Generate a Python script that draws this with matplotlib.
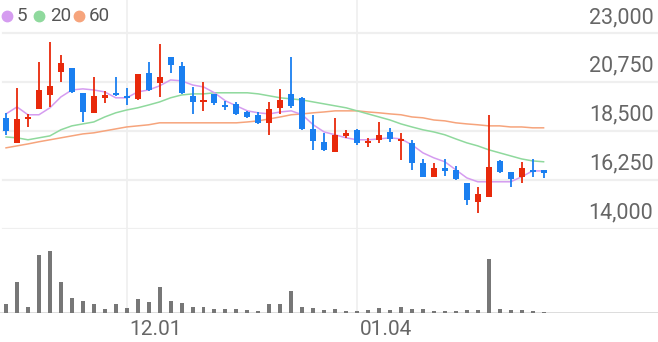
import matplotlib
matplotlib.use("Agg")
import matplotlib.pyplot as plt
import matplotlib.transforms as mtransforms
from matplotlib.lines import Line2D
import numpy as np

plt.rcParams['font.family'] = ['Roboto', 'DejaVu Sans']

# daily candles, oldest first
opens = [19100, 17950, 19050, 19510, 20150, 21210, 21390, 20250, 19330, 20020,
         20250, 20110, 19970, 21160, 20700, 21900, 21490, 20110, 19830, 20200,
         19690, 19740, 19370, 19240, 18870, 19560, 20200, 20020, 18590, 18000,
         17540, 18270, 18550, 17950, 18090, 18450, 18040, 17950, 17030, 16390,
         16800, 16710, 16110, 15240, 15470, 17120, 16620, 16390, 16710, 16710]
highs = [19330, 20470, 19280, 21670, 22590, 21990, 21390, 20250, 20980, 20340,
         20980, 20470, 21120, 21670, 22500, 21900, 21670, 20520, 20750, 20200,
         19880, 19830, 19420, 19370, 19830, 20430, 21900, 20060, 19240, 18410,
         19100, 18550, 18590, 18180, 18910, 18640, 18410, 18090, 17210, 17030,
         17210, 16890, 16110, 15930, 19240, 17170, 16620, 17080, 17210, 16710]
lows = [18320, 17950, 18680, 19510, 19600, 20750, 20250, 18910, 19330, 19790,
        20110, 19690, 19920, 20340, 20060, 21160, 20200, 19280, 19420, 19690,
        19460, 19240, 19100, 18820, 18320, 19280, 19560, 18550, 17630, 17580,
        17540, 18180, 17860, 17770, 17950, 18000, 17170, 16710, 16390, 16390,
        16430, 16250, 15100, 14730, 15470, 16570, 15930, 16110, 16390, 16340]
closes = [18500, 19050, 19140, 20380, 20570, 21620, 20290, 19370, 20110, 20150,
          20150, 20020, 21120, 20380, 20980, 21530, 20250, 19830, 19920, 19790,
          19600, 19280, 19140, 18870, 19510, 19920, 19650, 18590, 18040, 17630,
          18320, 18410, 17950, 18000, 18320, 18130, 18130, 17030, 16390, 16800,
          16660, 16300, 15330, 15610, 16850, 16620, 16300, 16800, 16620, 16570]
volumes = [108000, 372000, 72000, 696000, 744000, 372000, 180000, 144000, 108000, 48000,
           108000, 60000, 168000, 132000, 312000, 144000, 120000, 72000, 72000, 48000,
           48000, 48000, 36000, 24000, 108000, 108000, 264000, 72000, 60000, 36000,
           48000, 24000, 24000, 36000, 60000, 36000, 72000, 48000, 48000, 24000,
           24000, 24000, 36000, 36000, 648000, 48000, 36000, 36000, 24000, 12000]

# moving averages as drawn on the chart
ma5 = [19280, 19600, 19240, 19240, 19560, 20060, 20380, 20430, 20380, 20290,
       20020, 20020, 20290, 20380, 20570, 20840, 20800, 20610, 20520, 20250,
       19880, 19650, 19420, 19330, 19280, 19370, 19420, 19240, 18780, 18450,
       18320, 18180, 18090, 18090, 18130, 18180, 18130, 17860, 17490, 17260,
       17080, 16710, 16340, 16160, 16160, 16160, 16160, 16390, 16660, 16660]
ma20 = [18220, 18180, 18090, 18180, 18270, 18550, 18730, 18820, 18910, 19140,
        19330, 19460, 19560, 19690, 19830, 20020, 20150, 20200, 20200, 20250,
        20250, 20250, 20250, 20200, 20110, 20020, 19970, 19920, 19830, 19740,
        19650, 19560, 19420, 19280, 19140, 19000, 18820, 18680, 18550, 18450,
        18320, 18130, 17950, 17810, 17630, 17490, 17350, 17210, 17120, 17080]
ma60 = [17720, 17810, 17900, 18000, 18090, 18180, 18270, 18360, 18410, 18500,
        18590, 18680, 18730, 18780, 18870, 18870, 18870, 18870, 18870, 18870,
        18870, 18870, 18910, 18960, 19050, 19140, 19240, 19280, 19330, 19370,
        19420, 19420, 19420, 19370, 19330, 19280, 19240, 19140, 19100, 19000,
        18960, 18870, 18820, 18780, 18730, 18730, 18680, 18680, 18640, 18640]

price_ticks = [14000, 16250, 18500, 20750, 23000]
date_ticks = [11, 32]
date_labels = ['12.01', '01.04']
ma_labels = ['5', '20', '60']

RED = '#e8290b'
BLUE = '#1a7ff0'
MA_COLORS = ['#d59cf0', '#8fd99d', '#f6a47c']
GRID = '#efefef'
TEXT = '#666666'

W, H = 658, 342
fig = plt.figure(figsize=(W / 100, H / 100), dpi=100)
ax = fig.add_axes([0, (H - 229) / H, 1, 229 / H])
axv = fig.add_axes([0, (H - 313) / H, 1, 84 / H])

x = np.arange(len(closes))
xlim = (-0.55, 59.43)

for a in (ax, axv):
    a.set_facecolor('none')
    for s in a.spines.values():
        s.set_visible(False)
    a.tick_params(length=0)
    for t in date_ticks:
        a.axvline(t, color=GRID, lw=1.2, zorder=0)

# price panel
for p in price_ticks:
    ax.axhline(p, xmin=0.005, color=GRID, lw=1.6, zorder=0)

for ma, c in zip([ma60, ma20, ma5], MA_COLORS[::-1]):
    ax.plot(x, ma, color=c, lw=1.1, zorder=2)

o = np.array(opens)
c = np.array(closes)
up = c >= o
colors = np.where(up, RED, BLUE)
body_lo = np.minimum(o, c)
body_h = np.maximum(np.abs(c - o), 70)
ax.vlines(x, lows, highs, colors=colors, lw=1.3, zorder=3)
ax.bar(x, body_h, bottom=body_lo, width=0.55, color=colors, zorder=4)

ax.set_xlim(*xlim)
ax.set_ylim(13990, 24515)
ax.set_xticks([])
ax.set_yticks([])

trans = mtransforms.blended_transform_factory(ax.transAxes, ax.transData)
off = mtransforms.ScaledTranslation(0, 5 / 100, fig.dpi_scale_trans)
for p in price_ticks:
    ax.text(0.993, p, f'{p:,}', transform=trans + off, ha='right', va='bottom',
            fontsize=15.5, color=TEXT)

# volume panel
axv.bar(x, volumes, width=0.36, color='#777777', zorder=3)
axv.axhline(0, color='#dddddd', lw=1.4, zorder=1)
axv.set_ylim(0, 1008000)
axv.set_yticks([])
axv.set_xticks(date_ticks)
axv.set_xticklabels(date_labels, fontsize=15, color=TEXT)
axv.tick_params(axis='x', pad=5)
shift = mtransforms.ScaledTranslation(3 / 100, 0, fig.dpi_scale_trans)
for lbl in axv.get_xticklabels():
    lbl.set_ha('left')
    lbl.set_transform(lbl.get_transform() + shift)
axv.set_xlim(*xlim)

# legend
dot_x = [7, 39, 79]
txt_x = [17, 50, 89]
for dx, tx, lab, col in zip(dot_x, txt_x, ma_labels, MA_COLORS):
    fig.add_artist(Line2D([dx / W], [1 - 16 / H], marker='o', markersize=7.5,
                          color=col, linestyle='none', transform=fig.transFigure))
    fig.text(tx / W, 1 - 16 / H, lab, ha='left', va='center', fontsize=13.5,
             color='#555555')

fig.savefig('out.png', dpi=100)
